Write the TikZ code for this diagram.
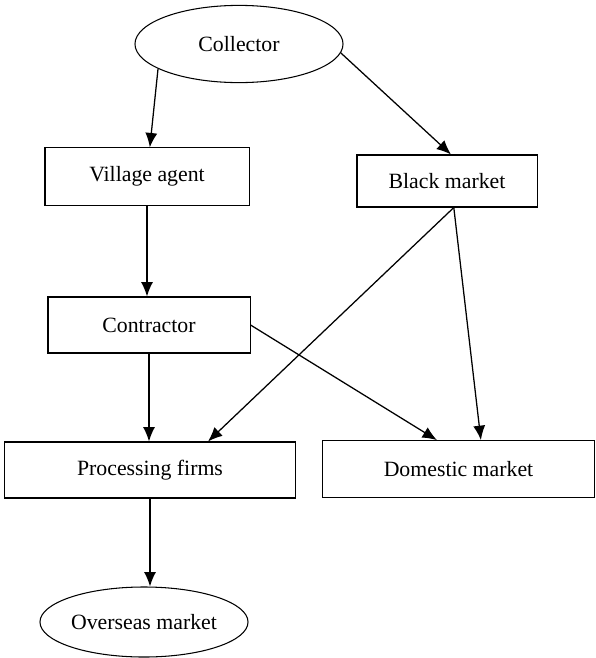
\documentclass[tikz,border=0pt]{standalone}
\usepackage{fontspec}
\setmainfont{Liberation Serif}
\usetikzlibrary{shapes.geometric,arrows.meta}

\tikzset{
    box/.style={draw, line width=0.75pt, rectangle, inner sep=0pt},
    oval/.style={draw, line width=0.75pt, ellipse, inner sep=0pt},
    arr/.style={-{Latex[length=3.6mm,width=3mm]}, line width=0.9pt},
}

\begin{document}
\begin{tikzpicture}[x=0.025cm, y=-0.025cm, font=\fontsize{15.5}{18}\selectfont]
\useasboundingbox (0,0) rectangle (595,658);

% Nodes
\node[oval, minimum width=5.2cm, minimum height=1.93cm] (collector) at (239,44) {Collector};
\node[box, minimum width=5.1cm, minimum height=1.43cm] (village) at (147,176.5) {Village agent};
\node[box, minimum width=4.5cm, minimum height=1.3cm] (black) at (447,181) {Black market};
\node[box, minimum width=5.05cm, minimum height=1.4cm] (contractor) at (149,325) {Contractor};
\node[box, minimum width=7.25cm, minimum height=1.4cm] (processing) at (150,470) {Processing firms};
\node[box, minimum width=6.78cm, minimum height=1.42cm] (domestic) at (458.5,469) {Domestic market};
\node[oval, minimum width=5.2cm, minimum height=1.75cm] (overseas) at (144,622) {Overseas market};

% Arrows
\draw[arr] (collector.-163) -- ([xshift=2pt]village.north);
\draw[arr] (collector.-5) -- ([xshift=0.1cm]black.north);
\draw[arr] (village.south) -- (village.south |- contractor.north);
\draw[arr] ([xshift=0.17cm]black.south) -- ([xshift=1.45cm]processing.north);
\draw[arr] ([xshift=0.17cm]black.south) -- ([xshift=0.56cm]domestic.north);
\draw[arr] (contractor.east) -- ([xshift=-0.54cm]domestic.north);
\draw[arr] (contractor.south) -- (contractor.south |- processing.north);
\draw[arr] (processing.south) -- (processing.south |- overseas.north);

\end{tikzpicture}
\end{document}
